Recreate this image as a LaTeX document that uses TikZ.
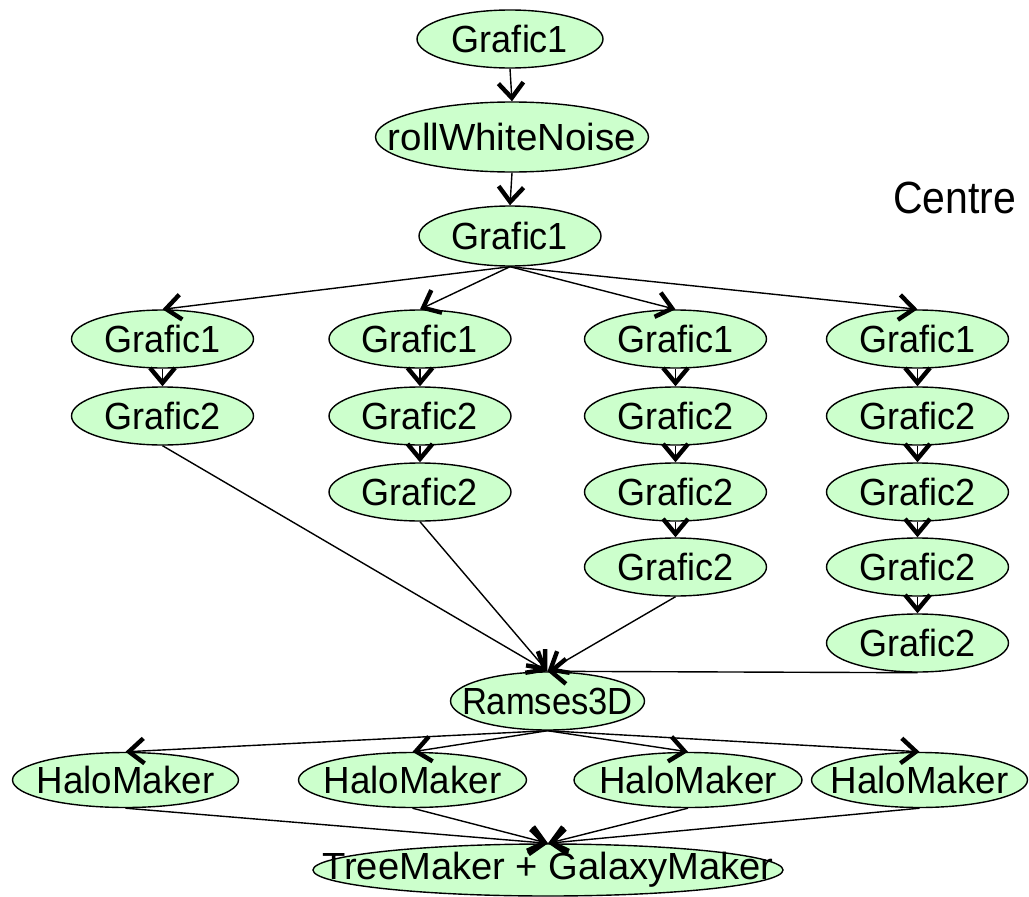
\documentclass[tikz,border=0pt]{standalone}
\usepackage{fontspec}
\setmainfont{Liberation Sans}
\usetikzlibrary{shapes.geometric,arrows.meta}
\definecolor{procfill}{HTML}{CCFFCC}
% label text: zero-width box so the ellipse keeps its given size
\newcommand\lbl[2][1]{\makebox[0pt]{\scalebox{#1}[1.05]{#2}}}
\tikzset{
  proc/.style={ellipse, draw=black, line width=1.4pt, fill=procfill,
    inner sep=0pt, minimum width=182pt, minimum height=58pt,
    font=\fontsize{36}{40}\selectfont},
  flow/.style={line width=1.4pt,
    -{Straight Barb[length=15pt,width=25pt,line width=4.4pt]}}
}
\begin{document}
\begin{tikzpicture}[x=1pt,y=-1pt]
\path[use as bounding box] (0,0) rectangle (1029,897);

% initial chain
\node[proc, minimum width=186pt] (g0) at (510,39) {\lbl{Grafic1}};
\node[proc, minimum width=273pt, minimum height=70pt] (roll) at (512,137) {\lbl[1.07]{rollWhiteNoise}};
\node[proc, minimum height=60pt] (g1) at (510,236) {\lbl{Grafic1}};

\node[font=\fontsize{41}{45}\selectfont, anchor=base west, inner sep=0pt]
  (centre) at (893,213) {\scalebox{1}[1.1]{Centre}};

% four refinement branches
\node[proc] (a1) at (162.5,339) {\lbl{Grafic1}};
\node[proc] (a2) at (162.5,416) {\lbl{Grafic2}};

\node[proc] (b1) at (420,339) {\lbl{Grafic1}};
\node[proc] (b2) at (420,416) {\lbl{Grafic2}};
\node[proc] (b3) at (420,492) {\lbl{Grafic2}};

\node[proc] (c1) at (675.5,339) {\lbl{Grafic1}};
\node[proc] (c2) at (675.5,416) {\lbl{Grafic2}};
\node[proc] (c3) at (675.5,492) {\lbl{Grafic2}};
\node[proc] (c4) at (675.5,567) {\lbl{Grafic2}};

\node[proc] (d1) at (917.5,339) {\lbl{Grafic1}};
\node[proc] (d2) at (917.5,416) {\lbl{Grafic2}};
\node[proc] (d3) at (917.5,492) {\lbl{Grafic2}};
\node[proc] (d4) at (917.5,567) {\lbl{Grafic2}};
\node[proc] (d5) at (917.5,643) {\lbl{Grafic2}};

% simulation and post-processing
\node[proc, minimum width=194pt] (ram) at (547.5,701) {\lbl[0.96]{Ramses3D}};

\node[proc, minimum width=226pt, minimum height=55pt] (h1) at (125.5,780) {\lbl[1.02]{HaloMaker}};
\node[proc, minimum width=228pt, minimum height=55pt] (h2) at (412.5,780) {\lbl[1.02]{HaloMaker}};
\node[proc, minimum width=228pt, minimum height=55pt] (h3) at (688,780) {\lbl[1.02]{HaloMaker}};
\node[proc, minimum width=216pt, minimum height=55pt] (h4) at (919.5,780) {\lbl[1.02]{HaloMaker}};

\node[proc, minimum width=470pt, minimum height=52pt] (tree) at (548,870) {\lbl[1.06]{TreeMaker + GalaxyMaker}};

% connectors
\draw[flow] (g0.south) -- (roll.north);
\draw[flow] (roll.south) -- (g1.north);

\foreach \t in {a1,b1,c1,d1}
  \draw[flow] (g1.south) -- (\t.north);

\draw[flow] (a1.south) -- (a2.north);
\draw[flow] (b1.south) -- (b2.north);
\draw[flow] (b2.south) -- (b3.north);
\draw[flow] (c1.south) -- (c2.north);
\draw[flow] (c2.south) -- (c3.north);
\draw[flow] (c3.south) -- (c4.north);
\draw[flow] (d1.south) -- (d2.north);
\draw[flow] (d2.south) -- (d3.north);
\draw[flow] (d3.south) -- (d4.north);
\draw[flow] (d4.south) -- (d5.north);

\foreach \s in {a2,b3,c4,d5}
  \draw[flow] (\s.south) -- (ram.north);

\foreach \t in {h1,h2,h3,h4}
  \draw[flow] (ram.south) -- (\t.north);

\foreach \s in {h1,h2,h3,h4}
  \draw[flow] (\s.south) -- (tree.north);
\end{tikzpicture}
\end{document}
